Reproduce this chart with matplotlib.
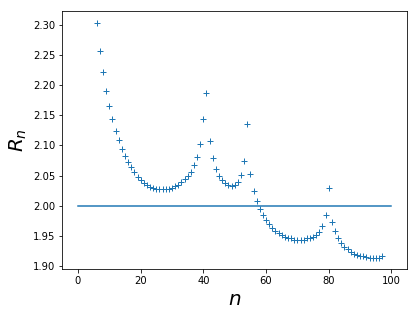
import numpy as np
import matplotlib
matplotlib.use("Agg")
import matplotlib.pyplot as plt

# n-waarden og R_n lest av figuren
n = np.arange(6, 98)
r_n = [
    2.303, 2.257, 2.221, 2.190, 2.165, 2.143, 2.124, 2.109, 2.094, 2.083,   # 6-15
    2.073, 2.065, 2.056, 2.048, 2.043, 2.038, 2.034, 2.031, 2.029, 2.028,   # 16-25
    2.027, 2.027, 2.027, 2.028, 2.030, 2.032, 2.035, 2.039, 2.044, 2.049,   # 26-35
    2.056, 2.067, 2.080, 2.102, 2.144, 2.186, 2.107, 2.079, 2.061, 2.049,   # 36-45
    2.043, 2.037, 2.034, 2.032, 2.034, 2.040, 2.051, 2.074, 2.136, 2.053,   # 46-55
    2.024, 2.008, 1.995, 1.985, 1.976, 1.969, 1.963, 1.959, 1.955, 1.951,   # 56-65
    1.949, 1.947, 1.946, 1.944, 1.943, 1.944, 1.944, 1.946, 1.947, 1.949,   # 66-75
    1.952, 1.957, 1.967, 1.984, 2.030, 1.973, 1.958, 1.946, 1.938, 1.932,   # 76-85
    1.928, 1.924, 1.920, 1.918, 1.917, 1.916, 1.915, 1.914, 1.914, 1.914,   # 86-95
    1.914, 1.916,                                                           # 96-97
]

# Referanselinje
line_x = [0, 100]
line_y = [2.0, 2.0]

fig = plt.figure(figsize=(418 / 72, 317 / 72), dpi=72)
ax = fig.add_axes([0.149, 0.150, 0.825, 0.815])

ax.plot(n, r_n, '+', color='C0')
ax.plot(line_x, line_y, color='C0')

ax.set_xlabel('$n$', fontsize=20)
ax.set_ylabel('$R_n$', fontsize=20)
ax.set_xticks([0, 20, 40, 60, 80, 100])
ax.set_yticks([1.90, 1.95, 2.00, 2.05, 2.10, 2.15, 2.20, 2.25, 2.30])
ax.tick_params(labelsize=10)

fig.savefig('out.png', dpi=72)
